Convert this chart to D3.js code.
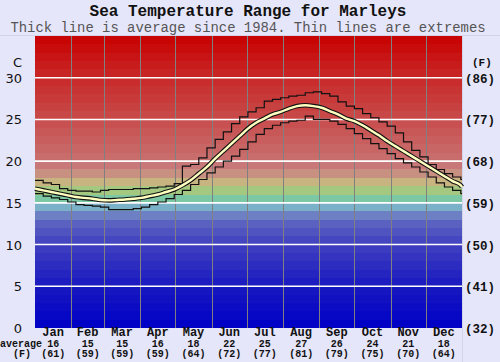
<!DOCTYPE html>
<html>
<head>
<meta charset="utf-8">
<script src="https://cdn.jsdelivr.net/npm/d3@7"></script>
<style>
  body { margin: 0; background: #e6e6fa; }
  svg { display: block; }
</style>
</head>
<body>
<div id="chart"></div>
<script>
// Month labels and monthly averages
const months = ["Jan","Feb","Mar","Apr","May","Jun","Jul","Aug","Sep","Oct","Nov","Dec"];
const monthDays = [31,28,31,30,31,30,31,31,30,31,30,31];
const avgC = [16,15,15,16,18,22,25,27,26,24,21,18];
const avgF = [61,59,59,59,64,72,77,81,79,75,70,64];
const ticksC = [0,5,10,15,20,25,30];
const ticksF = [32,41,50,59,68,77,86];

// Weekly samples (day of year)
const days = d3.range(0, 365, 7);
const avgLine = [16.7,16.5,16.3,16.1,15.9,15.7,15.6,15.5,15.35,15.3,15.35,15.4,15.5,15.6,15.8,16.0,16.3,16.6,17.1,17.7,18.5,19.3,20.3,21.2,22.1,23.0,23.9,24.6,25.1,25.6,25.9,26.3,26.6,26.7,26.6,26.4,26.0,25.6,25.1,24.8,24.3,23.7,23.1,22.4,21.8,21.2,20.6,20.0,19.4,18.8,18.2,17.6,17.1];
const maxLine = [17.7,17.4,17.2,16.7,16.5,16.4,16.4,16.3,16.5,16.6,16.6,16.6,16.7,16.7,16.8,16.9,17.0,17.3,19.4,19.6,20.4,21.6,22.6,23.5,24.5,25.3,25.9,26.4,27.2,27.4,27.6,27.8,27.9,28.2,28.3,28.1,27.8,27.1,26.6,26.3,25.7,25.2,24.7,24.2,23.4,22.3,21.3,20.5,19.6,19.0,18.5,18.1,17.8];
const minLine = [16.1,15.8,15.6,15.4,15.1,14.8,14.7,14.6,14.5,14.2,14.2,14.2,14.3,14.5,14.8,15.1,15.5,16.0,16.5,17.2,17.8,18.6,19.3,20.0,20.6,21.4,22.3,23.2,23.9,24.3,24.6,24.8,24.9,25.4,25.0,25.0,24.8,24.4,23.9,23.3,22.7,22.1,21.5,20.9,20.3,19.8,19.3,18.7,18.1,17.4,16.9,16.5,16.1];

const W = 500, H = 362;
const plot = { left: 35, right: 462, top: 36, bottom: 328 };

const svg = d3.select("#chart").append("svg")
  .attr("width", W).attr("height", H);

const x = d3.scaleLinear().domain([0, 365]).range([plot.left, plot.right]);
const y = d3.scaleLinear().domain([0, 35]).range([plot.bottom, plot.top]);

// faint frame lines
svg.append("line").attr("x1", 0).attr("x2", W).attr("y1", 35.5).attr("y2", 35.5)
  .attr("stroke", "#d4d4e8");
svg.append("line").attr("x1", plot.right + 0.5).attr("x2", plot.right + 0.5)
  .attr("y1", plot.top).attr("y2", H).attr("stroke", "#d4d4e8");

// Title
svg.append("text").attr("x", 248).attr("y", 15.5).attr("text-anchor", "middle")
  .attr("font-family", "Liberation Mono, monospace").attr("font-weight", "bold")
  .attr("font-size", 16).attr("fill", "#111")
  .text("Sea Temperature Range for Marleys");
svg.append("text").attr("x", 248).attr("y", 31.5).attr("text-anchor", "middle")
  .attr("font-family", "Liberation Mono, monospace")
  .attr("font-size", 13.9).attr("fill", "#555")
  .text("Thick line is average since 1984. Thin lines are extremes");

// Colour bands, one per degree
const bandColor = d3.scaleLinear()
  .domain([0, 5, 10, 13, 14, 15, 16, 17, 18, 19, 20, 25, 30, 35])
  .range(["#0000c8","#1818c0","#4040c0","#6068c0","#7c98c8","#78c8c8","#80c880","#c8c880","#c8a080","#c88080","#c87070","#c84c4c","#c82828","#c80000"]);
svg.append("g").selectAll("rect")
  .data(d3.range(0, 35))
  .join("rect")
  .attr("x", plot.left)
  .attr("width", plot.right - plot.left)
  .attr("y", d => y(d + 1))
  .attr("height", d => y(d) - y(d + 1))
  .attr("fill", d => bandColor(d + 0.5))
  .attr("shape-rendering", "crispEdges");

// Month grid lines
const monthStart = d3.cumsum([0].concat(monthDays.slice(0, 11)));
svg.append("g").selectAll("line")
  .data(monthStart.slice(1))
  .join("line")
  .attr("x1", d => Math.round(x(d)) + 0.5).attr("x2", d => Math.round(x(d)) + 0.5)
  .attr("y1", plot.top).attr("y2", plot.bottom)
  .attr("stroke", "#808080").attr("stroke-width", 1);

// White horizontal lines every 5C
svg.append("g").selectAll("line")
  .data(ticksC.slice(1))
  .join("line")
  .attr("x1", plot.left).attr("x2", plot.right)
  .attr("y1", d => y(d)).attr("y2", d => y(d))
  .attr("stroke", "#fff").attr("stroke-width", 1.6);

// Lines
const pts = arr => arr.map((v, i) => [days[i], v]);
const stepLine = d3.line().x(d => x(d[0])).y(d => y(d[1])).curve(d3.curveStepAfter);
const smooth = d3.line().x(d => x(d[0])).y(d => y(d[1])).curve(d3.curveMonotoneX);

const maxPts = pts(maxLine); maxPts.push([365, maxLine[maxLine.length - 1]]);
const minPts = pts(minLine); minPts.push([365, minLine[minLine.length - 1]]);
const avgPts = pts(avgLine); avgPts.push([365, 16.9]);

svg.append("path").attr("d", stepLine(maxPts)).attr("fill", "none")
  .attr("stroke", "#111").attr("stroke-width", 1.2);
svg.append("path").attr("d", stepLine(minPts)).attr("fill", "none")
  .attr("stroke", "#111").attr("stroke-width", 1.2);
svg.append("path").attr("d", smooth(avgPts)).attr("fill", "none")
  .attr("stroke", "#111").attr("stroke-width", 4.6);
svg.append("path").attr("d", smooth(avgPts)).attr("fill", "none")
  .attr("stroke", "#ffffc0").attr("stroke-width", 2.4);

// Left axis labels (C)
const leftG = svg.append("g").attr("font-family", "DejaVu Sans, sans-serif")
  .attr("font-size", 13).attr("fill", "#111").attr("text-anchor", "end");
leftG.selectAll("text.t").data(ticksC).join("text")
  .attr("class", "t").attr("x", 22).attr("y", d => y(d) + 5).text(d => d);
leftG.append("text").attr("x", 22).attr("y", 67).text("C");

// Right axis labels (F)
const rightG = svg.append("g").attr("font-family", "Liberation Mono, monospace")
  .attr("font-weight", "bold").attr("font-size", 12.5).attr("fill", "#111");
rightG.selectAll("text.t").data(ticksF).join("text")
  .attr("class", "t").attr("x", 465).attr("y", (d, i) => y(ticksC[i]) + 5).text(d => `(${d})`);
rightG.append("text").attr("x", 472).attr("y", 66).attr("font-size", 11).text("(F)");

// Bottom month labels
const mid = monthStart.map((s, i) => x(s + monthDays[i] / 2));
const botG = svg.append("g").attr("font-family", "Liberation Mono, monospace")
  .attr("font-weight", "bold").attr("fill", "#111").attr("text-anchor", "middle");
botG.selectAll("text.m").data(months).join("text").attr("class", "m")
  .attr("x", (d, i) => mid[i]).attr("y", 336).attr("font-size", 12).text(d => d);
botG.selectAll("text.c").data(avgC).join("text").attr("class", "c")
  .attr("x", (d, i) => mid[i]).attr("y", 347).attr("font-size", 10).text(d => d);
botG.selectAll("text.f").data(avgF).join("text").attr("class", "f")
  .attr("x", (d, i) => mid[i]).attr("y", 356.5).attr("font-size", 10).text(d => `(${d})`);
botG.append("text").attr("x", 21).attr("y", 347).attr("font-size", 10).text("average");
botG.append("text").attr("x", 22).attr("y", 356.5).attr("font-size", 10).text("(F)");
</script>
</body>
</html>
